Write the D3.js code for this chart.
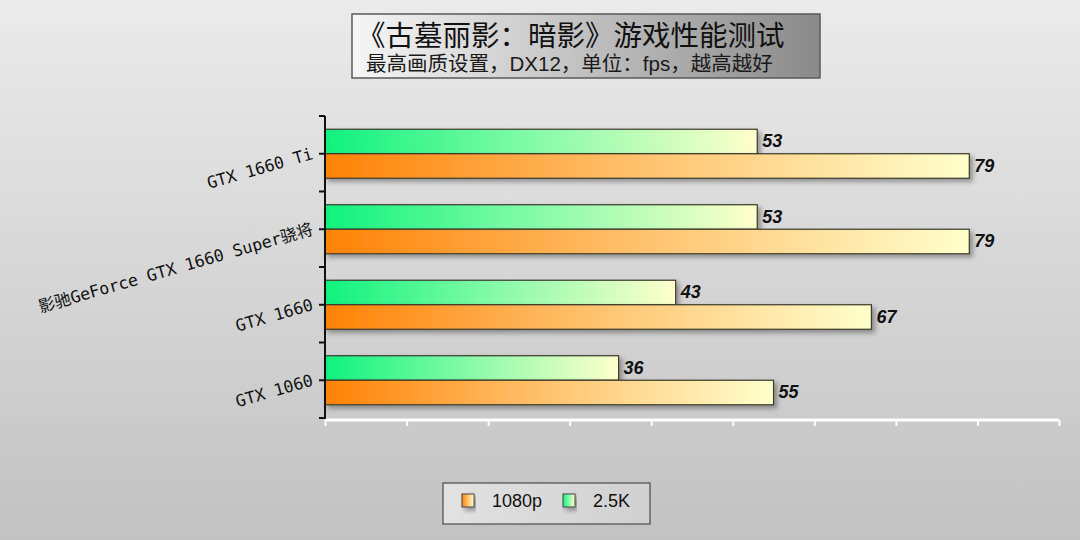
<!DOCTYPE html>
<html>
<head>
  <meta charset="utf-8">
  <script src="https://d3js.org/d3.v7.min.js"></script>
  <style>
    html, body { margin: 0; padding: 0; }
    body { width: 1080px; height: 540px; overflow: hidden; }
  </style>
</head>
<body>
  <div id="chart"></div>
  <script type="text/javascript">
    "use strict";

    // chart data
    var categories = ["GTX 1660 Ti", "影驰GeForce GTX 1660 Super骁将", "GTX 1660", "GTX 1060"];
    var seriesNames = ["2.5K", "1080p"];
    var fps25k = [53, 53, 43, 36];
    var fps1080 = [79, 79, 67, 55];
    var legendOrder = ["1080p", "2.5K"];
    var titleText = "《古墓丽影：暗影》游戏性能测试";
    var subtitleText = "最高画质设置，DX12，单位：fps，越高越好";

    var chartW = 1080, chartH = 540;
    var plotLeft = 325, plotRight = 1059, plotTop = 116, plotBottom = 418;
    var gradId = { "1080p": "gradOrange", "2.5K": "gradGreen" };

    var svg = d3.select("#chart").append("svg")
      .attr("width", chartW)
      .attr("height", chartH);

    var defs = svg.append("defs");

    // helper for horizontal gradients
    function hGrad(id, stops) {
      var g = defs.append("linearGradient").attr("id", id)
        .attr("x1", "0%").attr("y1", "0%").attr("x2", "100%").attr("y2", "0%");
      stops.forEach(function(s) {
        g.append("stop").attr("offset", s[0]).attr("stop-color", s[1]);
      });
    }

    var bg = defs.append("linearGradient").attr("id", "bg")
      .attr("x1", "0%").attr("y1", "0%").attr("x2", "0%").attr("y2", "100%");
    bg.append("stop").attr("offset", "0%").attr("stop-color", "#ebebeb");
    bg.append("stop").attr("offset", "100%").attr("stop-color", "#c2c2c2");

    hGrad("gradOrange", [["0%", "#ff8205"], ["45%", "#ffbd66"], ["100%", "#ffffcc"]]);
    hGrad("gradGreen", [["0%", "#0ff27d"], ["45%", "#7dfaa6"], ["100%", "#ffffcc"]]);
    hGrad("gradTitle", [["0%", "#f6f6f6"], ["100%", "#8a8a8a"]]);
    hGrad("gradLegend", [["0%", "#e2e2e2"], ["100%", "#d0d0d0"]]);

    var shadow = defs.append("filter").attr("id", "shadow")
      .attr("x", "-5%").attr("y", "-30%").attr("width", "115%").attr("height", "180%");
    shadow.append("feDropShadow")
      .attr("dx", 3).attr("dy", 3).attr("stdDeviation", 2.5)
      .attr("flood-color", "#000").attr("flood-opacity", 0.35);

    svg.append("rect")
      .attr("width", chartW).attr("height", chartH)
      .attr("fill", "url(#bg)");

    // title box
    svg.append("rect")
      .attr("x", 352).attr("y", 14).attr("width", 468).attr("height", 64)
      .attr("fill", "url(#gradTitle)")
      .attr("stroke", "#5a5a5a").attr("stroke-width", 1.5);

    svg.append("text")
      .attr("x", 357).attr("y", 46)
      .style("font-family", "'Noto Sans CJK SC', sans-serif")
      .style("font-size", "28.5px")
      .attr("fill", "#111")
      .text(titleText);

    svg.append("text")
      .attr("x", 366).attr("y", 71)
      .style("font-family", "'Liberation Sans', 'Noto Sans CJK SC', sans-serif")
      .style("font-size", "20.5px")
      .attr("fill", "#1a1a1a")
      .text(subtitleText);

    // scales
    var x = d3.scaleLinear().domain([0, 90]).range([plotLeft, plotRight]);
    var y = d3.scaleBand().domain(categories).range([plotTop, plotBottom]);
    var ySub = d3.scaleBand().domain(seriesNames)
      .range([0, y.bandwidth()]).paddingOuter(0.54);

    var rows = categories.map(function(c, i) {
      return { name: c, values: [
        { series: "2.5K", value: fps25k[i] },
        { series: "1080p", value: fps1080[i] }
      ]};
    });

    var groups = svg.selectAll("g.cat").data(rows).enter()
      .append("g").attr("class", "cat")
      .attr("transform", function(d) { return "translate(0," + y(d.name) + ")"; });

    groups.selectAll("rect").data(function(d) { return d.values; }).enter()
      .append("rect")
      .attr("x", x(0))
      .attr("y", function(d) { return ySub(d.series); })
      .attr("width", function(d) { return x(d.value) - x(0); })
      .attr("height", ySub.bandwidth())
      .attr("fill", function(d) { return "url(#" + gradId[d.series] + ")"; })
      .attr("stroke", "#3a3a2a").attr("stroke-width", 1.2)
      .attr("filter", "url(#shadow)");

    groups.selectAll("text").data(function(d) { return d.values; }).enter()
      .append("text")
      .attr("x", function(d) { return x(d.value) + 5; })
      .attr("y", function(d) { return ySub(d.series) + ySub.bandwidth() / 2 + 1; })
      .attr("dominant-baseline", "middle")
      .style("font-family", "'Liberation Sans', Arial, sans-serif")
      .style("font-size", "18px")
      .style("font-weight", "bold")
      .style("font-style", "italic")
      .attr("fill", "#111")
      .text(function(d) { return d.value; });

    // x axis: white line with downward ticks, no labels
    var xAxis = svg.append("g").attr("transform", "translate(0," + (plotBottom + 2) + ")")
      .call(d3.axisBottom(x).ticks(9).tickSize(6).tickFormat(""));
    xAxis.selectAll("path").attr("stroke", "#fff").attr("stroke-width", 3)
      .attr("d", "M" + plotLeft + ",0H" + plotRight);
    xAxis.selectAll("line").attr("stroke", "#fff").attr("stroke-width", 2);

    // y axis: black line, ticks at band edges and centres
    var yAxis = svg.append("g");
    yAxis.append("line")
      .attr("x1", plotLeft).attr("x2", plotLeft)
      .attr("y1", plotTop).attr("y2", plotBottom + 1)
      .attr("stroke", "#111").attr("stroke-width", 2);
    var edges = categories.map(function(c) { return y(c); }).concat([plotBottom]);
    var centres = categories.map(function(c) { return y(c) + y.bandwidth() / 2; });
    yAxis.selectAll("line.tick").data(edges.concat(centres)).enter()
      .append("line").attr("class", "tick")
      .attr("x1", plotLeft - 6).attr("x2", plotLeft)
      .attr("y1", function(d) { return d; }).attr("y2", function(d) { return d; })
      .attr("stroke", "#111").attr("stroke-width", 2);

    yAxis.selectAll("text").data(categories).enter()
      .append("text")
      .attr("transform", function(d) {
        return "translate(" + (plotLeft - 11) + "," + (y(d) + y.bandwidth() / 2 + 5) + ") rotate(-16)";
      })
      .attr("text-anchor", "end")
      .style("font-family", "'DejaVu Sans Mono', 'Noto Sans CJK SC', monospace")
      .style("font-size", "16.5px")
      .attr("fill", "#111")
      .text(function(d) { return d; });

    // legend
    var legend = svg.append("g");
    legend.append("rect")
      .attr("x", 443).attr("y", 483).attr("width", 207).attr("height", 41)
      .attr("fill", "url(#gradLegend)")
      .attr("stroke", "#555").attr("stroke-width", 1.3);

    var items = legend.selectAll("g.item").data(legendOrder).enter()
      .append("g").attr("class", "item")
      .attr("transform", function(d, i) { return "translate(" + (462 + i * 101) + ",494)"; });
    items.append("rect")
      .attr("width", 12).attr("height", 13)
      .attr("fill", function(d) { return "url(#" + gradId[d] + ")"; })
      .attr("stroke", "#444").attr("stroke-width", 1)
      .attr("filter", "url(#shadow)");
    items.append("text")
      .attr("x", 30).attr("y", 13)
      .style("font-family", "'Liberation Sans', Arial, sans-serif")
      .style("font-size", "18px")
      .attr("fill", "#111")
      .text(function(d) { return d; });
  </script>
</body>
</html>
